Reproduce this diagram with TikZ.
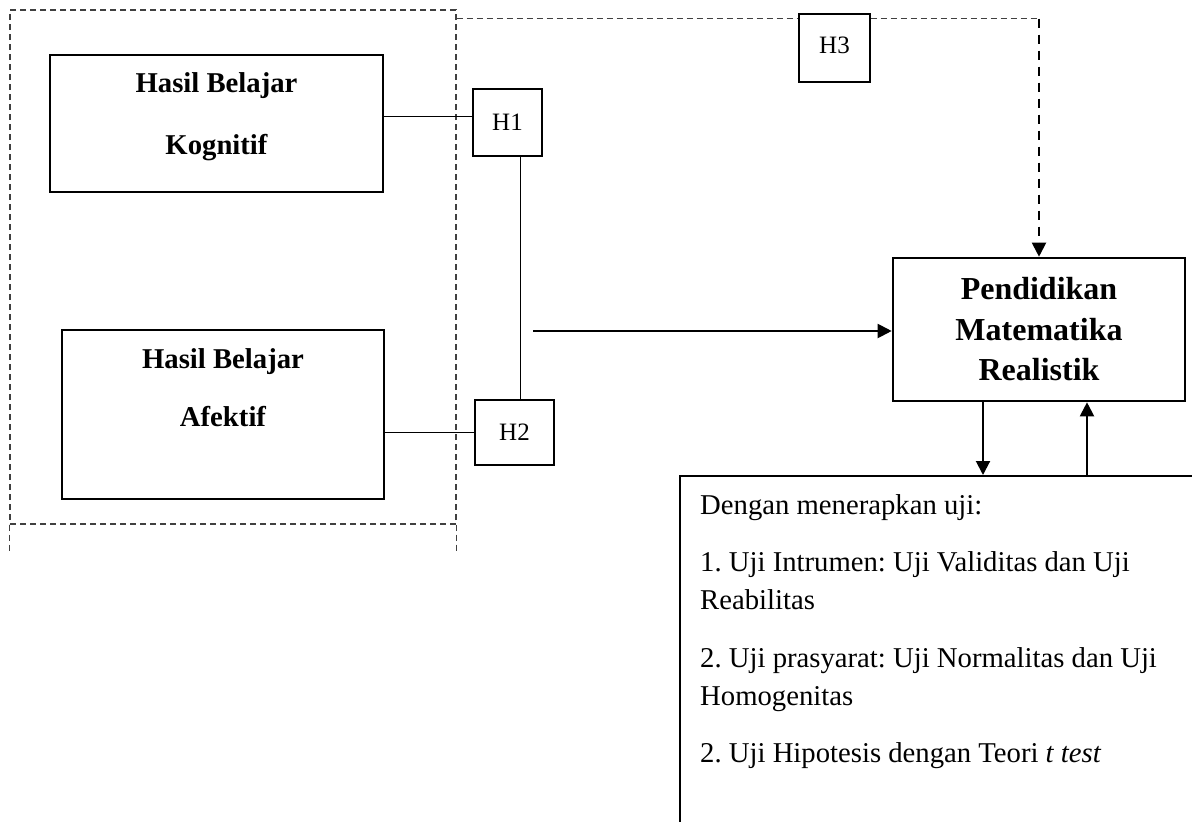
\documentclass[tikz,border=0pt]{standalone}
\usepackage{fontspec}
\setmainfont{Liberation Serif}
\frenchspacing
\usetikzlibrary{arrows.meta, positioning, calc}
\tikzset{
  box/.style={draw, line width=2pt, inner sep=0pt},
  hyp/.style={draw, line width=2.4pt, fill=white, inner sep=0pt, minimum width=69pt, minimum height=67pt, font=\fontsize{25}{30}\selectfont},
  btxt/.style={align=center, inner sep=0pt, font=\fontsize{28.7}{#1}\selectfont\bfseries},
  arr/.style={-{Triangle[length=14pt, width=14pt]}, line width=2pt},
  dline/.style={draw=black!75, dash pattern=on 6pt off 4pt, line width=1.2pt},
  dvarr/.style={arr, dash pattern=on 9pt off 7pt},
  conn/.style={line width=1pt},
}
\begin{document}
\begin{tikzpicture}[x=1pt, y=-1pt]
  \useasboundingbox (0,0) rectangle (1192,822);
  % dashed group round both learning outcomes
  \node[dline, minimum width=446pt, minimum height=514pt, inner sep=0pt] (grp) at (233,267) {};
  \draw[dline] (grp.south west) -- ++(0,26);
  \draw[dline] (grp.south east) -- ++(0,26);

  \node[box, minimum width=333pt, minimum height=137pt] (kog) at (216.5,123.5) {};
  \node[btxt=62pt, below=18.4pt of kog.north] (kog-txt) {Hasil Belajar\\Kognitif};
  \node[box, minimum width=322pt, minimum height=169pt] (afe) at (223,414.5) {};
  \node[btxt=58pt, below=19.4pt of afe.north] (afe-txt) {Hasil Belajar\\Afektif};

  \node[hyp] (h1) at (507.5,122.5) {H1};
  \node[hyp, minimum width=79pt, minimum height=65pt] (h2) at (514.5,432.5) {H2};
  \node[hyp, line width=1.3pt, minimum width=71pt, minimum height=68pt] (h3) at (834.5,48) {\raisebox{5pt}{H3}};

  \node[box, line width=2.6pt, minimum width=292pt, minimum height=143pt, align=center,
    font=\fontsize{32}{40.5}\selectfont\bfseries] (pmr) at (1039,329.5) {Pendidikan\\Matematika\\Realistik};

  \node[box, minimum width=520pt, minimum height=354pt] (uji) at (940,653) {};
  \node[anchor=north west, align=left, inner sep=0pt, font=\fontsize{28.7}{38}\selectfont] (uji-txt) at (700,494)
    {Dengan menerapkan uji:\\[19.5pt]
     1. Uji Intrumen: Uji Validitas dan Uji\\
     Reabilitas\\[19.5pt]
     2. Uji prasyarat: Uji Normalitas dan Uji\\
     Homogenitas\\[19.5pt]
     2. Uji Hipotesis dengan Teori \textit{t test}};

  % connectors
  \draw[conn] (kog.east |- h1.170) -- (h1.170);
  \draw[conn] (afe.east |- h2.west) -- (h2.west);
  \draw[conn] (h1.-70) -- (h1.-70 |- h2.north);
  \coordinate (split) at (533,331);
  \draw[arr] (split) -- (split -| pmr.west);
  \draw[dline] (grp.east |- h3.141) -- (h3.141);
  \draw[dline] (h3.39) -- (h3.39 -| pmr.north) coordinate (bend);
  \draw[dvarr] (bend) -- (pmr.north);
  \draw[arr] ([xshift=-56pt]pmr.south) -- ([xshift=-56pt]pmr.south |- uji.north);
  \draw[arr] ([xshift=48pt]pmr.south |- uji.north) -- ([xshift=48pt]pmr.south);
\end{tikzpicture}
\end{document}
